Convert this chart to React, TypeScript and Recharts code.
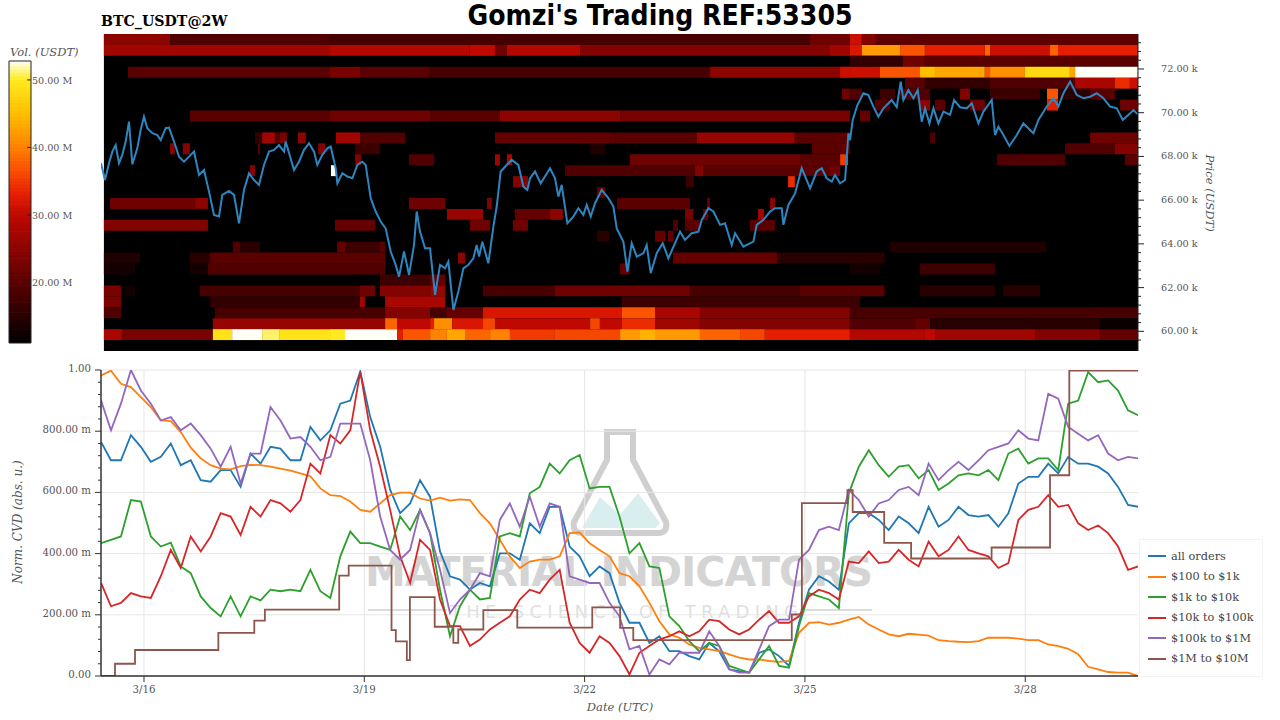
import React from "react";
import { ComposedChart, Line, XAxis, YAxis, CartesianGrid, ReferenceArea, Legend } from "recharts";

const HOUR_START = -14.05;
const HOUR_END = 324.85;
const SAMPLE_HOURS = (HOUR_END - HOUR_START) / 104;
const DATE_TICKS = [0, 72, 144, 216, 288];
const DATE_LABELS = ["3/16", "3/19", "3/22", "3/25", "3/28"];

const allOrders = [765,705,705,787,749,700,716,760,689,705,640,635,673,673,618,727,694,749,743,705,705,814,770,803,890,900,995,846,749,608,532,564,640,586,407,326,315,282,304,293,401,401,380,499,467,553,553,423,391,326,358,336,239,174,174,108,130,81,81,65,54,108,81,22,16,11,76,87,65,33,174,282,326,309,282,499,532,532,510,477,521,499,467,553,488,510,553,526,521,526,488,532,629,651,651,694,662,716,694,694,684,662,618,559,553];
const usd100to1k = [982,998,955,944,911,879,835,833,797,746,711,689,678,675,686,690,689,684,678,671,662,653,613,591,588,570,543,537,564,591,599,599,580,573,583,573,577,575,532,499,445,391,353,374,380,380,391,467,469,434,412,391,336,326,293,239,179,136,125,103,92,87,81,71,60,54,54,49,46,49,141,174,176,168,174,184,193,168,152,136,130,138,135,132,117,114,112,111,114,125,125,125,122,117,117,103,98,89,71,30,22,13,11,11,0];
const usd1kto10k = [434,445,456,575,570,456,423,436,358,336,260,222,195,260,195,260,247,282,277,282,277,347,277,255,391,472,434,434,423,412,521,477,543,467,282,130,228,282,250,255,456,467,456,597,618,694,662,705,722,613,618,618,521,401,434,358,353,195,163,114,81,108,98,33,22,11,54,98,33,27,163,271,260,250,222,597,684,738,689,651,684,689,646,673,608,629,656,662,656,673,640,727,743,694,711,711,673,890,900,993,960,966,933,868,852];
const usd10kto100k = [304,228,239,271,260,255,326,412,353,456,407,456,532,521,461,553,521,575,564,537,575,694,662,787,760,803,995,803,684,543,391,304,445,412,250,163,163,98,119,152,174,195,250,282,271,315,347,174,108,76,130,108,65,5,76,98,119,130,146,130,146,184,179,152,136,152,184,212,174,174,195,260,282,271,250,374,369,407,369,374,412,380,358,439,391,412,456,412,401,391,353,369,510,543,553,591,553,559,499,477,492,467,423,347,358];
const usd100kto1m = [901,803,890,1000,933,890,835,846,803,825,787,743,684,749,629,727,727,879,835,776,781,749,705,716,825,825,825,705,521,412,380,412,543,467,347,206,250,282,336,326,510,564,488,586,488,564,553,326,315,304,304,239,195,87,98,5,54,38,76,76,76,146,98,22,11,11,87,163,184,184,380,412,477,488,477,608,575,521,564,575,608,618,591,694,640,673,700,673,705,738,749,760,803,776,770,922,906,814,792,770,787,727,705,716,711];

const usd1mto10mHours = [-14.05,-9.48,-2.94,24.3,36.05,39.5,63.8,66.9,80.9,82.3,85.9,86.9,95,101.1,102.7,110.9,122,146.5,155.6,159.9,211.7,215,229.9,231.6,241.9,250.7,277,296.1,302.4,324.85];
const usd1mto10mValues = [0,40,85,141,181,217,328,361,150,113,52,258,161,108,152,215,158,224,157,117,201,565,607,536,435,384,420,656,998,998];

const priceHours = [-14.05,-12.75,-11.44,-10.35,-9.26,-8.17,-7.08,-5.99,-4.9,-3.81,-2.18,-1.09,0,1.09,2.73,4.36,5.45,7.08,8.17,9.81,11.44,13.08,14.71,16.34,17.98,19.61,21.25,22.88,24.51,25.6,27.78,29.42,31.05,32.69,34.32,35.95,37.59,39.22,40.86,42.49,44.13,45.76,46.3,49.03,50.66,52.3,53.93,55.56,56.65,58.29,59.92,61.01,62.65,63.19,64.83,66.46,68.1,69.73,71.36,72.45,74.09,75.72,77.35,78.99,80.62,82.26,83.35,84.98,86.62,88.25,89.12,90.21,91.85,93.48,95.12,96.75,98.38,99.47,101.11,102.74,104.38,106.01,107.64,108.73,109.5,110.58,112.54,114.18,115.27,116.57,118.53,120.17,122.35,123.98,125.29,126.16,127.8,129.65,132.7,134.33,135.42,136.51,138.36,140.32,141.96,143.59,144.68,145.99,147.41,149.59,151.76,153.4,154.49,156.67,157.97,159.39,161.03,163.2,164.29,165.6,167.56,169.52,171.37,173.55,175.19,176.82,179,181.18,182.27,184.45,186.08,188.26,189.89,192.07,193.16,195.89,199.16,200.25,202.43,204.61,206.24,208.42,208.96,210.6,212.78,214.95,217.68,219.86,221.49,223.13,224.76,225.85,227.48,229.12,230.21,230.75,231.62,233.15,235.11,236.74,238.38,240.01,241.65,244.37,246,247.31,248.18,249.82,251.45,252.87,254.17,255.26,256.68,257.99,259.62,261.26,263.44,264.74,266.7,268.88,270.52,272.7,274.33,277.05,278.14,279.23,280.87,282.83,285.23,287.4,290.67,292.31,295.03,297.21,298.84,300.48,302.66,304.84,307.02,309.19,311.37,313.55,315.73,317.91,319.87,322.27,323.36,324.66];
const priceValues = [67.69,66.92,67.69,68.22,68.52,67.69,68.07,68.68,69.59,67.64,68.37,69.21,69.82,69.29,69.06,68.98,68.75,69.29,69.32,68.68,67.99,67.76,67.99,68.22,67.15,67.38,66.39,65.32,65.25,66.24,66.42,66.24,64.94,66.47,67.23,66.92,66.7,67.61,68.22,68.3,68.52,68.22,68.68,67.38,67.76,68.3,68.6,68.22,67.61,68.07,68.37,68.45,67.46,66.77,67.23,67.08,67,67.61,67.76,67.61,66.09,65.48,65.02,64.71,63.65,63.04,62.5,63.65,62.58,63.95,65.48,64.56,63.8,63.8,61.67,63.04,62.88,63.19,60.98,61.82,62.88,63.04,63.34,63.95,63.42,64.1,63.11,64.79,65.71,67.31,67.61,67.84,67.61,66.62,66.47,67,67.31,66.77,67.46,67,66.16,66.7,64.94,65.25,65.63,65.33,65.78,65.25,65.86,66.47,66.09,65.71,64.71,64.1,62.73,64.03,63.42,63.57,63.95,62.66,63.57,64.03,63.34,64.03,64.56,64.18,64.49,64.56,65.09,65.63,65.48,64.87,64.94,63.95,64.49,63.87,64.1,64.87,65.1,65.48,65.63,65.63,64.87,65.78,66.31,67.46,66.54,67.31,67.46,67,66.85,67.15,66.77,66.92,69.06,68.75,69.67,70.35,70.89,70.81,70.28,69.82,70.2,70.58,70.25,71.42,70.58,71.04,70.66,71.04,69.59,70.2,69.51,70.2,69.51,70.05,69.9,70.58,70.25,70.2,70.43,69.51,70.05,70.58,68.98,69.36,68.98,68.48,68.98,69.51,69.06,69.67,70.28,70.66,70.28,70.89,71.42,70.81,70.66,70.73,70.89,70.66,70.28,70.2,69.67,69.97,70.12,69.94];

const PRICE_TOP = 73.6;
const PRICE_BOTTOM = 59.1;
const PRICE_BIN = 0.5;
const PRICE_TICKS = [59.6,60,60.4,60.8,61.2,61.6,62,62.4,62.8,63.2,63.6,64,64.4,64.8,65.2,65.6,66,66.4,66.8,67.2,67.6,68,68.4,68.8,69.2,69.6,70,70.4,70.8,71.2,71.6,72,72.4,72.8,73.2];
const CVD_TICKS = [0,40,80,120,160,200,240,280,320,360,400,440,480,520,560,600,640,680,720,760,800,840,880,920,960,1000];
const VOL_TICKS = [20,30,40,50];
const VOL_MIN = 11.04;
const VOL_MAX = 52.8;

// [price row from the top, start hour, end hour, volume in M USDT]
const heatRuns: number[][] = [
  [0,-13.1,8.5,25],[0,8.5,60.8,19],[0,60.8,217.6,18],[0,217.6,230.7,22],[0,230.7,234.6,31],[0,234.6,238.9,24],[0,238.9,324.8,20.5],
  [1,-13.1,60.8,27],[1,60.8,106.5,29],[1,106.5,114.7,30],[1,114.7,118.6,22],[1,118.6,142.5,29],[1,142.5,224.2,24],[1,224.2,230.7,27],[1,230.7,234.6,32],[1,234.6,247.1,42],[1,247.1,255.2,37],[1,255.2,274.8,33],[1,274.8,276.5,38],[1,276.5,296.1,31],[1,296.1,298.7,38],[1,298.7,324.8,33],
  [2,230.7,248,16],[2,248,255.2,22],[2,255.2,324.8,20],
  [3,-5.2,60.8,20],[3,60.8,70.6,23],[3,70.6,93.5,20],[3,93.5,185,18],[3,185,230.7,25],[3,227.5,230.7,31],[3,230.7,240.5,31],[3,240.5,253.6,37],[3,253.6,258.5,45],[3,258.5,274.8,43],[3,274.8,276.5,37],[3,276.5,287.9,41],[3,287.9,302.6,48],[3,302.6,304.3,43],[3,304.3,324.8,52.8],
  [4,248.7,255.2,20],[4,255.2,276.5,16],[4,276.5,304.3,19],[4,304.3,317.3,28],[4,317.3,322.2,34],[4,322.2,324.8,31],
  [5,230.7,234.6,19],[5,240.5,245.4,17],[5,247.1,256.9,19],[5,266.7,269.9,24],[5,276.5,292.8,17],[5,295.1,298.7,37],[5,298.7,309.2,15],[5,309.2,317.3,20],[5,228.1,230.7,22],
  [6,238.9,243.8,19],[6,253.6,256.9,25],[6,258.5,261.8,20],[6,269.9,274.8,22],[6,295.1,298.7,33],[6,319,324.8,22],
  [7,15,60.8,20],[7,60.8,93.5,22],[7,93.5,116.3,20],[7,116.3,155.6,25],[7,155.6,230.7,23],[7,234,237.3,21],
  [9,38.6,42.8,27],[9,36.3,38.6,16],[9,42.8,44.4,19],[9,44.4,46.7,23],[9,50.3,52.9,25],[9,62.7,70.6,27],[9,70.6,85.3,19],[9,114.7,152.3,21],[9,152.3,180.7,20],[9,180.7,212.7,26],[9,212.7,230.7,20],[9,256.9,258.5,19],[9,309.2,324.8,22],
  [10,8.5,10.1,24],[10,12.7,15,24],[10,37.3,37.9,21],[10,56.9,59.2,24],[10,69,77.1,17],[10,145.8,150.7,14],[10,218.3,227.5,20],[10,227.5,230.7,21],[10,301,317.3,19],[10,317.3,324.8,24],
  [11,69,70.9,24],[11,86.6,94.8,19],[11,114.7,116.3,27],[11,118.6,120.3,28],[11,158.8,214.4,22],[11,214.4,227.5,20],[11,227.5,230.1,35],[11,278.8,301,19],[11,320.6,324.8,20],
  [12,34.6,36.3,24],[12,61.1,62.7,52.8],[12,137.6,180.1,19],[12,180.1,182.7,24],[12,182.7,224.2,20],[12,224.2,227.5,22],
  [13,120.6,125.5,24],[13,177.1,179.7,17],[13,210.5,212.7,34],
  [14,148,150.7,21],
  [15,-11.1,16.7,22],[15,16.7,20.9,25],[15,86.6,98.4,22],[15,112.1,113.7,24],[15,154.6,178.4,20],[15,184,185,21],[15,204.6,206.2,25],
  [16,99,110.8,26],[16,121.2,132.7,21],[16,132.7,136.9,25],[16,176.8,179.4,23],[16,182.7,184.4,21],[16,200.7,202.6,28],
  [17,-13.1,20.9,24],[17,62.4,75.5,21],[17,106.5,113.1,22],[17,120.6,125.5,22],[17,172.9,174.5,19],[17,176.8,181.7,20],[17,198,206.2,20],
  [18,148,152,15],[18,167,170.3,21],[18,171.2,173,21],
  [19,29,31.4,19],[19,31.4,37.9,15],[19,63.1,65.7,21],[19,65.7,77.1,17],[19,77.1,78.8,20],[19,243.8,295,14],
  [20,-13.1,-1.3,14],[20,15,21.6,15],[20,21.6,78.8,20],[20,102.6,104.9,25],[20,172.9,206.9,21],[20,206.9,242,15],
  [21,-13.1,-2.9,13],[21,15,20.9,13],[21,20.9,78.8,19],[21,155.6,158.8,21],[21,230.7,240.5,13],[21,253.6,278.1,17],
  [22,77.1,93.5,17],[22,93.5,98.4,21],
  [23,-13.1,-7.5,23],[23,-6.2,-2.9,13],[23,18.3,70.6,18],[23,70.6,75.5,22],[23,77.1,93.5,24],[23,93.5,98.4,26],[23,110.8,134.3,18],[23,134.3,178.4,22],[23,178.4,214.4,18],[23,214.4,242,20],[23,253.6,278.1,15],[23,280.7,292.8,15],
  [24,-13.1,-7.5,23],[24,21.6,70.6,16],[24,70.6,72.2,27],[24,78.8,98.4,28],[24,156.2,234,17],
  [25,-13.1,-7.5,19],[25,23.2,78.8,18],[25,78.8,93.5,24],[25,93.5,99,18],[25,99,110.8,21],[25,110.8,156.2,32],[25,156.2,167,37],[25,167,181.7,28],[25,181.7,230.7,24],[25,230.7,324.8,18],
  [26,22.5,78.8,26],[26,78.8,82.7,38],[26,82.7,93.5,30],[26,93.5,94.8,33],[26,94.8,100.7,41],[26,100.7,110.8,32],[26,110.8,114.7,36],[26,114.7,145.8,30],[26,145.8,149,36],[26,149,156.2,30],[26,156.2,167,34],[26,167,181.7,27],[26,181.7,230.7,24],[26,230.7,252,19],[26,252,256.9,21],[26,256.9,312.4,15],[26,312.4,324.8,12],
  [27,-13.1,-7.2,28],[27,-7.2,22.5,23],[27,22.5,28.8,49],[27,28.8,38.6,52.8],[27,38.6,44.4,51],[27,44.4,60.8,49],[27,60.8,65.7,50],[27,65.7,82.7,52.8],[27,82.7,84.6,33],[27,84.6,93.5,37],[27,93.5,99,40],[27,99,104.9,43],[27,104.9,113.1,38],[27,113.1,119.6,40],[27,119.6,134.3,35],[27,134.3,155.6,36],[27,155.6,162.1,42],[27,162.1,167,44],[27,167,181.7,42],[27,181.7,194.8,38],[27,194.8,202.9,36],[27,202.9,230.7,33],[27,230.7,255.2,29],[27,255.2,258.5,30],[27,258.5,291.2,27],[27,291.2,312.4,24],[27,312.4,324.8,21],
  [28,22.5,78.8,13],[28,78.8,93.5,20],[28,93.5,106.5,26],[28,106.5,118,22],[28,118,156.2,19],[28,156.2,230.7,23],[28,230.7,242.2,17],
];

const volumeSteps = [11,11.5,12,12.5,13,13.5,14,14.5,15,15.5,16,16.5,17,17.5,18,18.5,19,19.5,20,20.5,21,21.5,22,22.5,23,23.5,24,24.5,25,25.5,26,26.5,27,27.5,28,28.5,29,29.5,30,30.5,31,31.5,32,32.5,33,33.5,34,34.5,35,35.5,36,36.5,37,37.5,38,38.5,39,39.5,40,40.5,41,41.5,42,42.5,43,43.5,44,44.5,45,45.5,46,46.5,47,47.5,48,48.5,49,49.5,50,50.5,51,51.5,52,52.5];

const SERIES_NAMES = ["all orders", "$100 to $1k", "$1k to $10k", "$10k to $100k", "$100k to $1M", "$1M to $10M"];
const SERIES_COLORS = ["#1f77b4", "#ff7f0e", "#2ca02c", "#d62728", "#9467bd", "#8c564b"];

const hotStops: [number, number, number, number][] = [
  [11, 0, 0, 0],[20, 90, 0, 0],[30, 190, 8, 0],[33, 230, 30, 0],[37, 250, 85, 0],[40, 255, 130, 0],[45, 255, 190, 0],[50, 255, 235, 30],[52.8, 255, 255, 245],
];
function hot(v: number) {
  for (let i = 1; i < hotStops.length; i++) {
    const a = hotStops[i - 1], b = hotStops[i];
    if (v <= b[0]) {
      const t = Math.max(0, (v - a[0]) / (b[0] - a[0]));
      return `rgb(${Math.round(a[1] + t * (b[1] - a[1]))},${Math.round(a[2] + t * (b[2] - a[2]))},${Math.round(a[3] + t * (b[3] - a[3]))})`;
    }
  }
  return "rgb(255,255,245)";
}

const uniformSeries = (values: number[]) => values.map((v, i) => ({ h: HOUR_START + i * SAMPLE_HOURS, v }));
const pairedSeries = (hours: number[], values: number[]) => hours.map((h, i) => ({ h, v: values[i] }));

const TICK_COLOR = "#555";
const SERIF = "'DejaVu Serif', serif";

const CvdTick = (props: any) => {
  const { x, y, payload } = props;
  const v = payload.value;
  const major = v % 200 === 0;
  const label = v === 0 ? "0.00" : v === 1000 ? "1.00" : `${v}.00 m`;
  return (
    <g>
      <line x1={x - (major ? 6 : 3)} x2={x} y1={y} y2={y} stroke="#333" strokeWidth={1} />
      {major && <text x={x - 10} y={y + 2} textAnchor="end" fontSize={10.2} fontFamily={SERIF} fill={TICK_COLOR}>{label}</text>}
    </g>
  );
};

const DateTick = (props: any) => {
  const { x, y, payload } = props;
  return (
    <g>
      <line x1={x} x2={x} y1={y} y2={y + 6} stroke="#333" strokeWidth={1} />
      <text x={x} y={y + 17} textAnchor="middle" fontSize={10.2} fontFamily={SERIF} fill={TICK_COLOR}>
        {DATE_LABELS[DATE_TICKS.indexOf(payload.value)]}
      </text>
    </g>
  );
};

const PriceTick = (props: any) => {
  const { x, y, payload } = props;
  const v = payload.value;
  const major = Math.abs(v / 2 - Math.round(v / 2)) < 0.001;
  return (
    <g>
      <line x1={x} x2={x + (major ? 6 : 3)} y1={y} y2={y} stroke="#222" strokeWidth={1} />
      {major && <text x={x + 23} y={y + 3} fontSize={9.7} fontFamily={SERIF} fill={TICK_COLOR}>{`${v}.00 k`}</text>}
    </g>
  );
};

const VolTick = (props: any) => {
  const { x, y, payload } = props;
  return (
    <g>
      <line x1={x - 4} x2={x} y1={y} y2={y} stroke="#222" strokeWidth={1} />
      <text x={x + 1} y={y + 4} fontSize={9.6} fontFamily={SERIF} fill={TICK_COLOR}>{`${payload.value}.00 M`}</text>
    </g>
  );
};

const LegendBox = (props: any) => {
  const items = [...(props.payload || [])].sort((a: any, b: any) => SERIES_NAMES.indexOf(a.value) - SERIES_NAMES.indexOf(b.value));
  return (
    <div style={{ width: 124, height: 138, boxSizing: "border-box", border: "1px solid #f3f3f3", background: "#fff", position: "relative" }}>
      {items.map((p: any, i: number) => (
        <div key={p.value} style={{ position: "absolute", left: 8, top: 6 + i * 20.5, height: 20, display: "flex", alignItems: "center" }}>
          <span style={{ display: "inline-block", width: 18, height: 2, background: p.color, marginRight: 5 }} />
          <span style={{ fontFamily: SERIF, fontSize: 11.3, color: "#444", whiteSpace: "nowrap" }}>{p.value}</span>
        </div>
      ))}
    </div>
  );
};

const Watermark = () => (
  <svg width={1280} height={720} style={{ position: "absolute", left: 0, top: 0 }}>
    <polygon points="582,528 600,497 620,515 638,493 660,523 655,528" fill="#d9efef" />
    <path d="M607 432 L633 432 L633 460 L666 522 Q668 533 658 533 L582 533 Q572 533 574 522 L607 460 Z" fill="none" stroke="#cfcfcf" strokeWidth={6} />
    <text x={365} y={586} textLength={508} lengthAdjust="spacing" fontFamily="'DejaVu Sans', sans-serif" fontWeight="bold" fontSize={41} fill="#d4d4d4">MATERIAL INDICATORS</text>
    <line x1={368} x2={447} y1={610} y2={610} stroke="#dcdcdc" strokeWidth={2} />
    <line x1={800} x2={872} y1={610} y2={610} stroke="#dcdcdc" strokeWidth={2} />
    <text x={450} y={618} textLength={348} lengthAdjust="spacing" fontFamily="'DejaVu Sans', sans-serif" fontSize={18} fill="#dfdfdf">THE SCIENCE OF TRADING</text>
  </svg>
);

const Labels = () => (
  <svg width={1280} height={720} style={{ position: "absolute", left: 0, top: 0, pointerEvents: "none" }}>
    <text x={660} y={25} textAnchor="middle" fontFamily="'DejaVu Sans', sans-serif" fontWeight="bold" fontSize={28} textLength={385} lengthAdjust="spacingAndGlyphs" fill="#000">Gomzi's Trading REF:53305</text>
    <text x={101} y={26} fontFamily={SERIF} fontWeight="bold" fontSize={14.2} fill="#000">BTC_USDT@2W</text>
    <text x={10} y={56} fontFamily={SERIF} fontStyle="italic" fontSize={11.5} fill="#555">Vol. (USDT)</text>
    <text x={620} y={711} textAnchor="middle" fontFamily={SERIF} fontStyle="italic" fontSize={11.5} fill="#555">Date (UTC)</text>
    <text transform="translate(22,522) rotate(-90)" textAnchor="middle" fontFamily={SERIF} fontStyle="italic" fontSize={12} fill="#555">Norm. CVD (abs. u.)</text>
    <text transform="translate(1206,193) rotate(90)" textAnchor="middle" fontFamily={SERIF} fontStyle="italic" fontSize={11.5} fill="#555">Price (USDT)</text>
  </svg>
);

export default function App() {
  const priceLine = pairedSeries(priceHours, priceValues);
  const cvdData = [allOrders, usd100to1k, usd1kto10k, usd10kto100k, usd100kto1m].map(uniformSeries);
  const brownData = pairedSeries(usd1mto10mHours, usd1mto10mValues);
  return (
    <div style={{ position: "absolute", left: 0, top: 0, width: 1280, height: 720, background: "#fff", overflow: "hidden" }}>
      <Watermark />
      <div style={{ position: "absolute", left: 0, top: 0 }}>
        <ComposedChart width={1280} height={360} data={priceLine} margin={{ top: 34, right: 0, bottom: 9, left: 101 }}>
          <XAxis dataKey="h" type="number" domain={[HOUR_START, HOUR_END]} hide allowDataOverflow />
          <YAxis orientation="right" width={142} domain={[PRICE_BOTTOM, PRICE_TOP]} ticks={PRICE_TICKS} interval={0} tick={<PriceTick />} tickLine={false} tickSize={0} tickMargin={0} axisLine={{ stroke: "#222" }} allowDataOverflow />
          <ReferenceArea x1={-13.1} x2={HOUR_END} y1={PRICE_BOTTOM} y2={PRICE_TOP} fill="#000" fillOpacity={1} stroke="none" />
          {heatRuns.map((r, i) => (
            <ReferenceArea key={i} x1={r[1]} x2={r[2]} y1={PRICE_TOP - (r[0] + 1) * PRICE_BIN} y2={PRICE_TOP - r[0] * PRICE_BIN} fill={hot(r[3])} fillOpacity={1} stroke="none" />
          ))}
          <Line dataKey="v" type="linear" stroke="#2e86c1" strokeWidth={2} dot={false} isAnimationActive={false} />
        </ComposedChart>
      </div>
      <div style={{ position: "absolute", left: 0, top: 0 }}>
        <ComposedChart width={100} height={360} data={[{ x: 0, v: VOL_MIN }, { x: 1, v: VOL_MAX }]} margin={{ top: 61, right: 0, bottom: 17, left: 9 }}>
          <XAxis dataKey="x" type="number" domain={[0, 1]} hide />
          <YAxis orientation="right" width={69} domain={[VOL_MIN, VOL_MAX]} ticks={VOL_TICKS} interval={0} tick={<VolTick />} tickLine={false} tickSize={0} tickMargin={0} axisLine={false} allowDataOverflow />
          {volumeSteps.map((v) => (
            <ReferenceArea key={v} x1={0} x2={1} y1={Math.max(VOL_MIN, v)} y2={Math.min(VOL_MAX, v + 0.6)} fill={hot(v + 0.25)} fillOpacity={1} stroke="none" />
          ))}
          <ReferenceArea x1={0} x2={1} y1={VOL_MIN} y2={VOL_MAX} fill="none" stroke="#222" strokeWidth={1} />
        </ComposedChart>
      </div>
      <div style={{ position: "absolute", left: 0, top: 360 }}>
        <ComposedChart width={1280} height={360} margin={{ top: 10, right: 142, bottom: 0, left: 0 }}>
          <CartesianGrid stroke="#e6e6e6" horizontalValues={[0, 200, 400, 600, 800, 1000]} verticalValues={DATE_TICKS} />
          <XAxis dataKey="h" type="number" height={44} domain={[HOUR_START, HOUR_END]} ticks={DATE_TICKS} interval={0} tick={<DateTick />} tickLine={false} tickSize={0} tickMargin={0} axisLine={{ stroke: "#333", strokeWidth: 1.5 }} allowDataOverflow />
          <YAxis width={101} domain={[0, 1000]} ticks={CVD_TICKS} interval={0} tick={<CvdTick />} tickLine={false} tickSize={0} tickMargin={0} axisLine={{ stroke: "#333", strokeWidth: 1.5 }} allowDataOverflow />
          {cvdData.map((d, i) => (
            <Line key={SERIES_NAMES[i]} data={d} name={SERIES_NAMES[i]} dataKey="v" type="linear" stroke={SERIES_COLORS[i]} strokeWidth={1.8} dot={false} isAnimationActive={false} />
          ))}
          <Line data={brownData} name={SERIES_NAMES[5]} dataKey="v" type="stepAfter" stroke={SERIES_COLORS[5]} strokeWidth={1.8} dot={false} isAnimationActive={false} />
          <Legend layout="vertical" align="center" verticalAlign="middle" content={<LegendBox />} wrapperStyle={{ position: "absolute", left: 1139, top: 179, width: 124, height: 138, margin: 0 }} />
        </ComposedChart>
      </div>
      <Labels />
    </div>
  );
}
